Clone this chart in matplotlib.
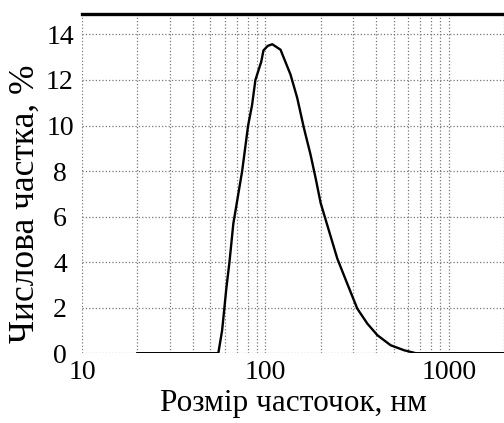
import matplotlib
matplotlib.use('Agg')
import matplotlib.pyplot as plt
from matplotlib.ticker import LogLocator, NullFormatter

# particle size distribution
size_nm = [20, 55.3, 58, 59.7, 61.2, 63.6, 66.8, 74.6, 80.4, 84.5, 88.1,
           94.8, 97.5, 103, 108.9, 120.8, 136.9, 149, 161.9, 176, 187.6,
           199.9, 221.9, 246.6, 279.4, 316.7, 359.4, 407.8, 481.6, 569.8,
           660.7, 2000]
fraction = [0, 0, 1.0, 2.0, 2.87, 4.0, 5.7, 8.0, 10.0, 10.9, 12.0,
            12.8, 13.3, 13.5, 13.57, 13.33, 12.24, 11.21, 9.9, 8.73, 7.7,
            6.6, 5.38, 4.15, 3.05, 1.96, 1.30, 0.79, 0.35, 0.13,
            0.0, 0]

y_ticks = [0, 2, 4, 6, 8, 10, 12, 14]
x_ticks = [10, 100, 1000]
x_tick_labels = ['10', '100', '1000']

plt.rcParams['font.family'] = ['Liberation Serif', 'DejaVu Serif']

fig = plt.figure(figsize=(5.04, 4.23), dpi=100)
ax = fig.add_axes([0.163, 0.165, 0.837, 0.802])

ax.plot(size_nm, fraction, color='black', lw=1.7)

ax.set_xscale('log')
ax.set_xlim(10, 2000)
ax.set_ylim(0, 14.9)

ax.set_xticks(x_ticks)
ax.set_xticklabels(x_tick_labels)
ax.xaxis.set_minor_locator(LogLocator(base=10, subs=range(2, 10)))
ax.xaxis.set_minor_formatter(NullFormatter())
ax.set_yticks(y_ticks)
ax.tick_params(axis='both', which='both', length=0, labelsize=20)
ax.tick_params(axis='y', pad=16)
ax.tick_params(axis='x', pad=5)
for lbl in ax.get_yticklabels():
    lbl.set_ha('center')

ax.grid(True, which='both', axis='x', color='#777777', ls=':', lw=0.9)
ax.grid(True, which='major', axis='y', color='#777777', ls=':', lw=0.9)

for side in ['left', 'right', 'bottom']:
    ax.spines[side].set_visible(False)
ax.spines['top'].set_linewidth(2.4)

ax.set_xlabel('Розмір часточок, нм', fontsize=22.5)
ax.set_ylabel('Числова частка, %', fontsize=25.5)
ax.xaxis.label.set_va('baseline')
ax.xaxis.set_label_coords(0.5, -0.17)
ax.yaxis.set_label_coords(-0.095, 0.44)

fig.savefig('out.png', dpi=100)
